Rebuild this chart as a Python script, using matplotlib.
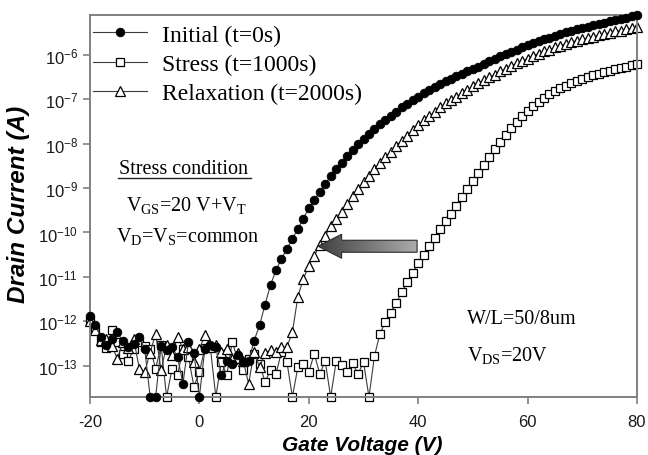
import numpy as np
import matplotlib
matplotlib.use('Agg')
import matplotlib.pyplot as plt
from matplotlib.patches import Polygon
from matplotlib.lines import Line2D
from matplotlib.ticker import FixedLocator, NullLocator

# gate voltage sweep, 1 V steps
gate_v = np.arange(-20, 81)

# log10 of drain current (-13.7 = point sitting on the bottom axis)
initial_log = [
    -11.87, -12.09, -12.35, -12.54, -12.40, -12.24, -12.45, -12.58, -12.50, -12.35,
    -12.62, -13.70, -13.70, -12.55, -12.65, -12.58, -12.80, -13.40, -12.46, -12.71,
    -13.70, -12.61, -12.54, -12.58, -13.21, -12.88, -12.95, -12.76, -12.91, -12.90,
    -12.43, -12.09, -11.62, -11.18, -10.85, -10.59, -10.37, -10.14, -9.92, -9.69,
    -9.45, -9.28, -9.08, -8.90, -8.74, -8.58, -8.43, -8.28, -8.14, -8.01,
    -7.89, -7.78, -7.67, -7.57, -7.47, -7.37, -7.28, -7.19, -7.11, -7.03,
    -6.95, -6.87, -6.80, -6.73, -6.66, -6.60, -6.54, -6.48, -6.43, -6.38,
    -6.33, -6.27, -6.21, -6.15, -6.09, -6.04, -5.99, -5.94, -5.89, -5.84,
    -5.79, -5.74, -5.70, -5.66, -5.62, -5.58, -5.54, -5.50, -5.47, -5.43,
    -5.40, -5.37, -5.34, -5.31, -5.28, -5.25, -5.22, -5.19, -5.17, -5.14,
    -5.12]

stress_log = [
    -12.00, -12.20, -12.46, -12.60, -12.20, -12.46, -12.73, -12.88, -12.62, -12.46,
    -12.55, -12.61, -13.06, -12.54, -13.70, -13.06, -13.21, -12.61, -12.80, -13.47,
    -13.14, -12.60, -12.58, -13.70, -12.91, -13.21, -12.46, -12.85, -13.10, -12.84,
    -12.73, -12.95, -13.36, -13.10, -13.18, -12.69, -12.91, -13.70, -13.03, -12.95,
    -13.14, -12.73, -13.18, -12.90, -13.70, -12.90, -12.99, -13.14, -12.93, -13.19,
    -12.91, -13.70, -12.78, -12.28, -12.01, -11.80, -11.58, -11.34, -11.11, -10.91,
    -10.69, -10.50, -10.31, -10.13, -9.93, -9.74, -9.58, -9.40, -9.20, -9.02,
    -8.84, -8.66, -8.48, -8.30, -8.13, -7.97, -7.81, -7.66, -7.52, -7.39,
    -7.27, -7.16, -7.06, -6.97, -6.89, -6.82, -6.76, -6.70, -6.65, -6.60,
    -6.55, -6.51, -6.47, -6.43, -6.39, -6.36, -6.33, -6.30, -6.27, -6.24,
    -6.21]

relax_log = [
    -11.99, -12.20, -12.42, -12.39, -12.55, -12.84, -12.46, -12.60, -12.39, -13.06,
    -13.14, -12.70, -12.28, -13.10, -12.54, -12.76, -12.35, -12.61, -12.58, -12.91,
    -12.62, -12.31, -12.58, -12.54, -12.69, -12.61, -12.84, -12.70, -12.88, -13.40,
    -12.69, -13.03, -12.72, -12.65, -12.69, -12.58, -12.58, -12.24, -11.45, -11.04,
    -10.76, -10.52, -10.29, -10.07, -9.86, -9.70, -9.54, -9.36, -9.19, -9.02,
    -8.87, -8.72, -8.57, -8.44, -8.31, -8.19, -8.06, -7.94, -7.82, -7.70,
    -7.59, -7.48, -7.39, -7.29, -7.19, -7.10, -7.02, -6.95, -6.87, -6.79,
    -6.71, -6.64, -6.58, -6.51, -6.45, -6.38, -6.32, -6.26, -6.20, -6.14,
    -6.09, -6.03, -5.98, -5.93, -5.89, -5.84, -5.80, -5.76, -5.72, -5.69,
    -5.66, -5.63, -5.60, -5.57, -5.54, -5.51, -5.48, -5.46, -5.43, -5.41,
    -5.38]

series_labels = ['Initial (t=0s)', 'Stress (t=1000s)', 'Relaxation (t=2000s)']
ytick_exp = [-13, -12, -11, -10, -9, -8, -7, -6]
xticks = [-20, 0, 20, 40, 60, 80]

ylog_lo, ylog_hi = -13.7, -5.11

plt.rcParams['font.family'] = ['Liberation Sans', 'DejaVu Sans']
plt.rcParams['mathtext.default'] = 'regular'

fig = plt.figure(figsize=(6.48, 4.56), dpi=100)
ax = fig.add_axes([90/648, 1-398/456, 547/648, 382/456])

line_col = '#3c3c3c'
ax.plot(gate_v, 10**np.array(initial_log), '-o', color=line_col, lw=0.8,
        ms=6.2, mfc='black', mec='black', mew=0.6, clip_on=False, label=series_labels[0], zorder=3)
ax.plot(gate_v, 10**np.array(stress_log), '-s', color=line_col, lw=0.8,
        ms=6.2, mfc='white', mec='black', mew=0.9, clip_on=False, label=series_labels[1], zorder=2)
ax.plot(gate_v, 10**np.array(relax_log), '-^', color=line_col, lw=0.8,
        ms=7.0, mfc='white', mec='black', mew=0.9, clip_on=False, label=series_labels[2], zorder=2.5)

ax.set_yscale('log')
ax.yaxis.set_major_locator(FixedLocator([10.0**e for e in ytick_exp]))
ax.yaxis.set_minor_locator(NullLocator())
ax.set_yticklabels([r'$\mathregular{10^{%d}}$' % e for e in ytick_exp], fontsize=12)
ax.set_xticks(xticks)
ax.set_xticklabels([str(v) for v in xticks], fontsize=12)

for s in ax.spines.values():
    s.set_color('#808080')
    s.set_linewidth(1.4)
ax.tick_params(direction='out', length=5, width=1.2, color='#808080', labelcolor='#1a1a1a')
ax.tick_params(axis='x', pad=7)

ax.set_xlabel('Gate Voltage (V)', fontsize=15, fontweight='bold', style='italic')
ax.set_ylabel('Drain Current (A)', fontsize=17.5, fontweight='bold', style='italic')
ax.xaxis.set_label_coords(0.497, -0.099)
ax.yaxis.set_label_coords(-0.11, 0.508)

leg = ax.legend(loc='upper left', bbox_to_anchor=(0.0055, 0.976), frameon=False,
                prop={'family': 'Liberation Serif', 'size': 17}, handlelength=2.3,
                handletextpad=0.64, labelspacing=0.33, borderaxespad=0, borderpad=0)

# annotations (axes fraction from pixel positions)
def afx(px):
    return (px - 90) / 547.0

def afy(py):
    return (398 - py) / 382.0

serif = {'family': 'Liberation Serif', 'size': 14.5}
ax.text(afx(119), afy(174), 'Stress condition', transform=ax.transAxes, va='baseline', fontdict=serif)
ax.add_line(Line2D([afx(118), afx(251)], [afy(179), afy(179)], transform=ax.transAxes,
                   color='#222222', lw=1.0))
ax.text(afx(126), afy(211), r'V$_{GS}$=20 V+V$_{T}$', transform=ax.transAxes, va='baseline', fontdict=serif)
ax.text(afx(116), afy(242), r'V$_{D}$=V$_{S}$=common', transform=ax.transAxes, va='baseline', fontdict=serif)
ax.text(afx(467), afy(324), 'W/L=50/8um', transform=ax.transAxes, va='baseline', fontdict=serif)
ax.text(afx(467), afy(361), r'V$_{DS}$=20V', transform=ax.transAxes, va='baseline', fontdict=serif)

# gradient block arrow pointing left (shift of the curve after relaxation)
def vx(v):
    return (v + 20) / 100.0

def ly(l):
    return (l - ylog_lo) / (ylog_hi - ylog_lo)

tip_v, neck_v, tail_v = 21.7, 26.0, 39.8
mid_l, body_h, head_h = -10.31, 0.135, 0.27
pts = [(vx(tip_v), ly(mid_l)),
       (vx(neck_v), ly(mid_l + head_h)),
       (vx(neck_v), ly(mid_l + body_h)),
       (vx(tail_v), ly(mid_l + body_h)),
       (vx(tail_v), ly(mid_l - body_h)),
       (vx(neck_v), ly(mid_l - body_h)),
       (vx(neck_v), ly(mid_l - head_h))]
arrow = Polygon(pts, closed=True, transform=ax.transAxes, facecolor='none',
                edgecolor='#2a2a2a', lw=0.8, zorder=5)
ax.add_patch(arrow)
grad = np.linspace(0.25, 0.68, 256)
img = np.dstack([grad, grad, grad]).reshape(1, 256, 3)
im = ax.imshow(img, extent=(vx(tip_v), vx(tail_v), ly(mid_l - head_h), ly(mid_l + head_h)),
               transform=ax.transAxes, aspect='auto', interpolation='bilinear', zorder=4)
im.set_clip_path(arrow)

ax.set_xlim(-20, 80)
ax.set_ylim(10**ylog_lo, 10**ylog_hi)

fig.savefig('out.png', dpi=100)
